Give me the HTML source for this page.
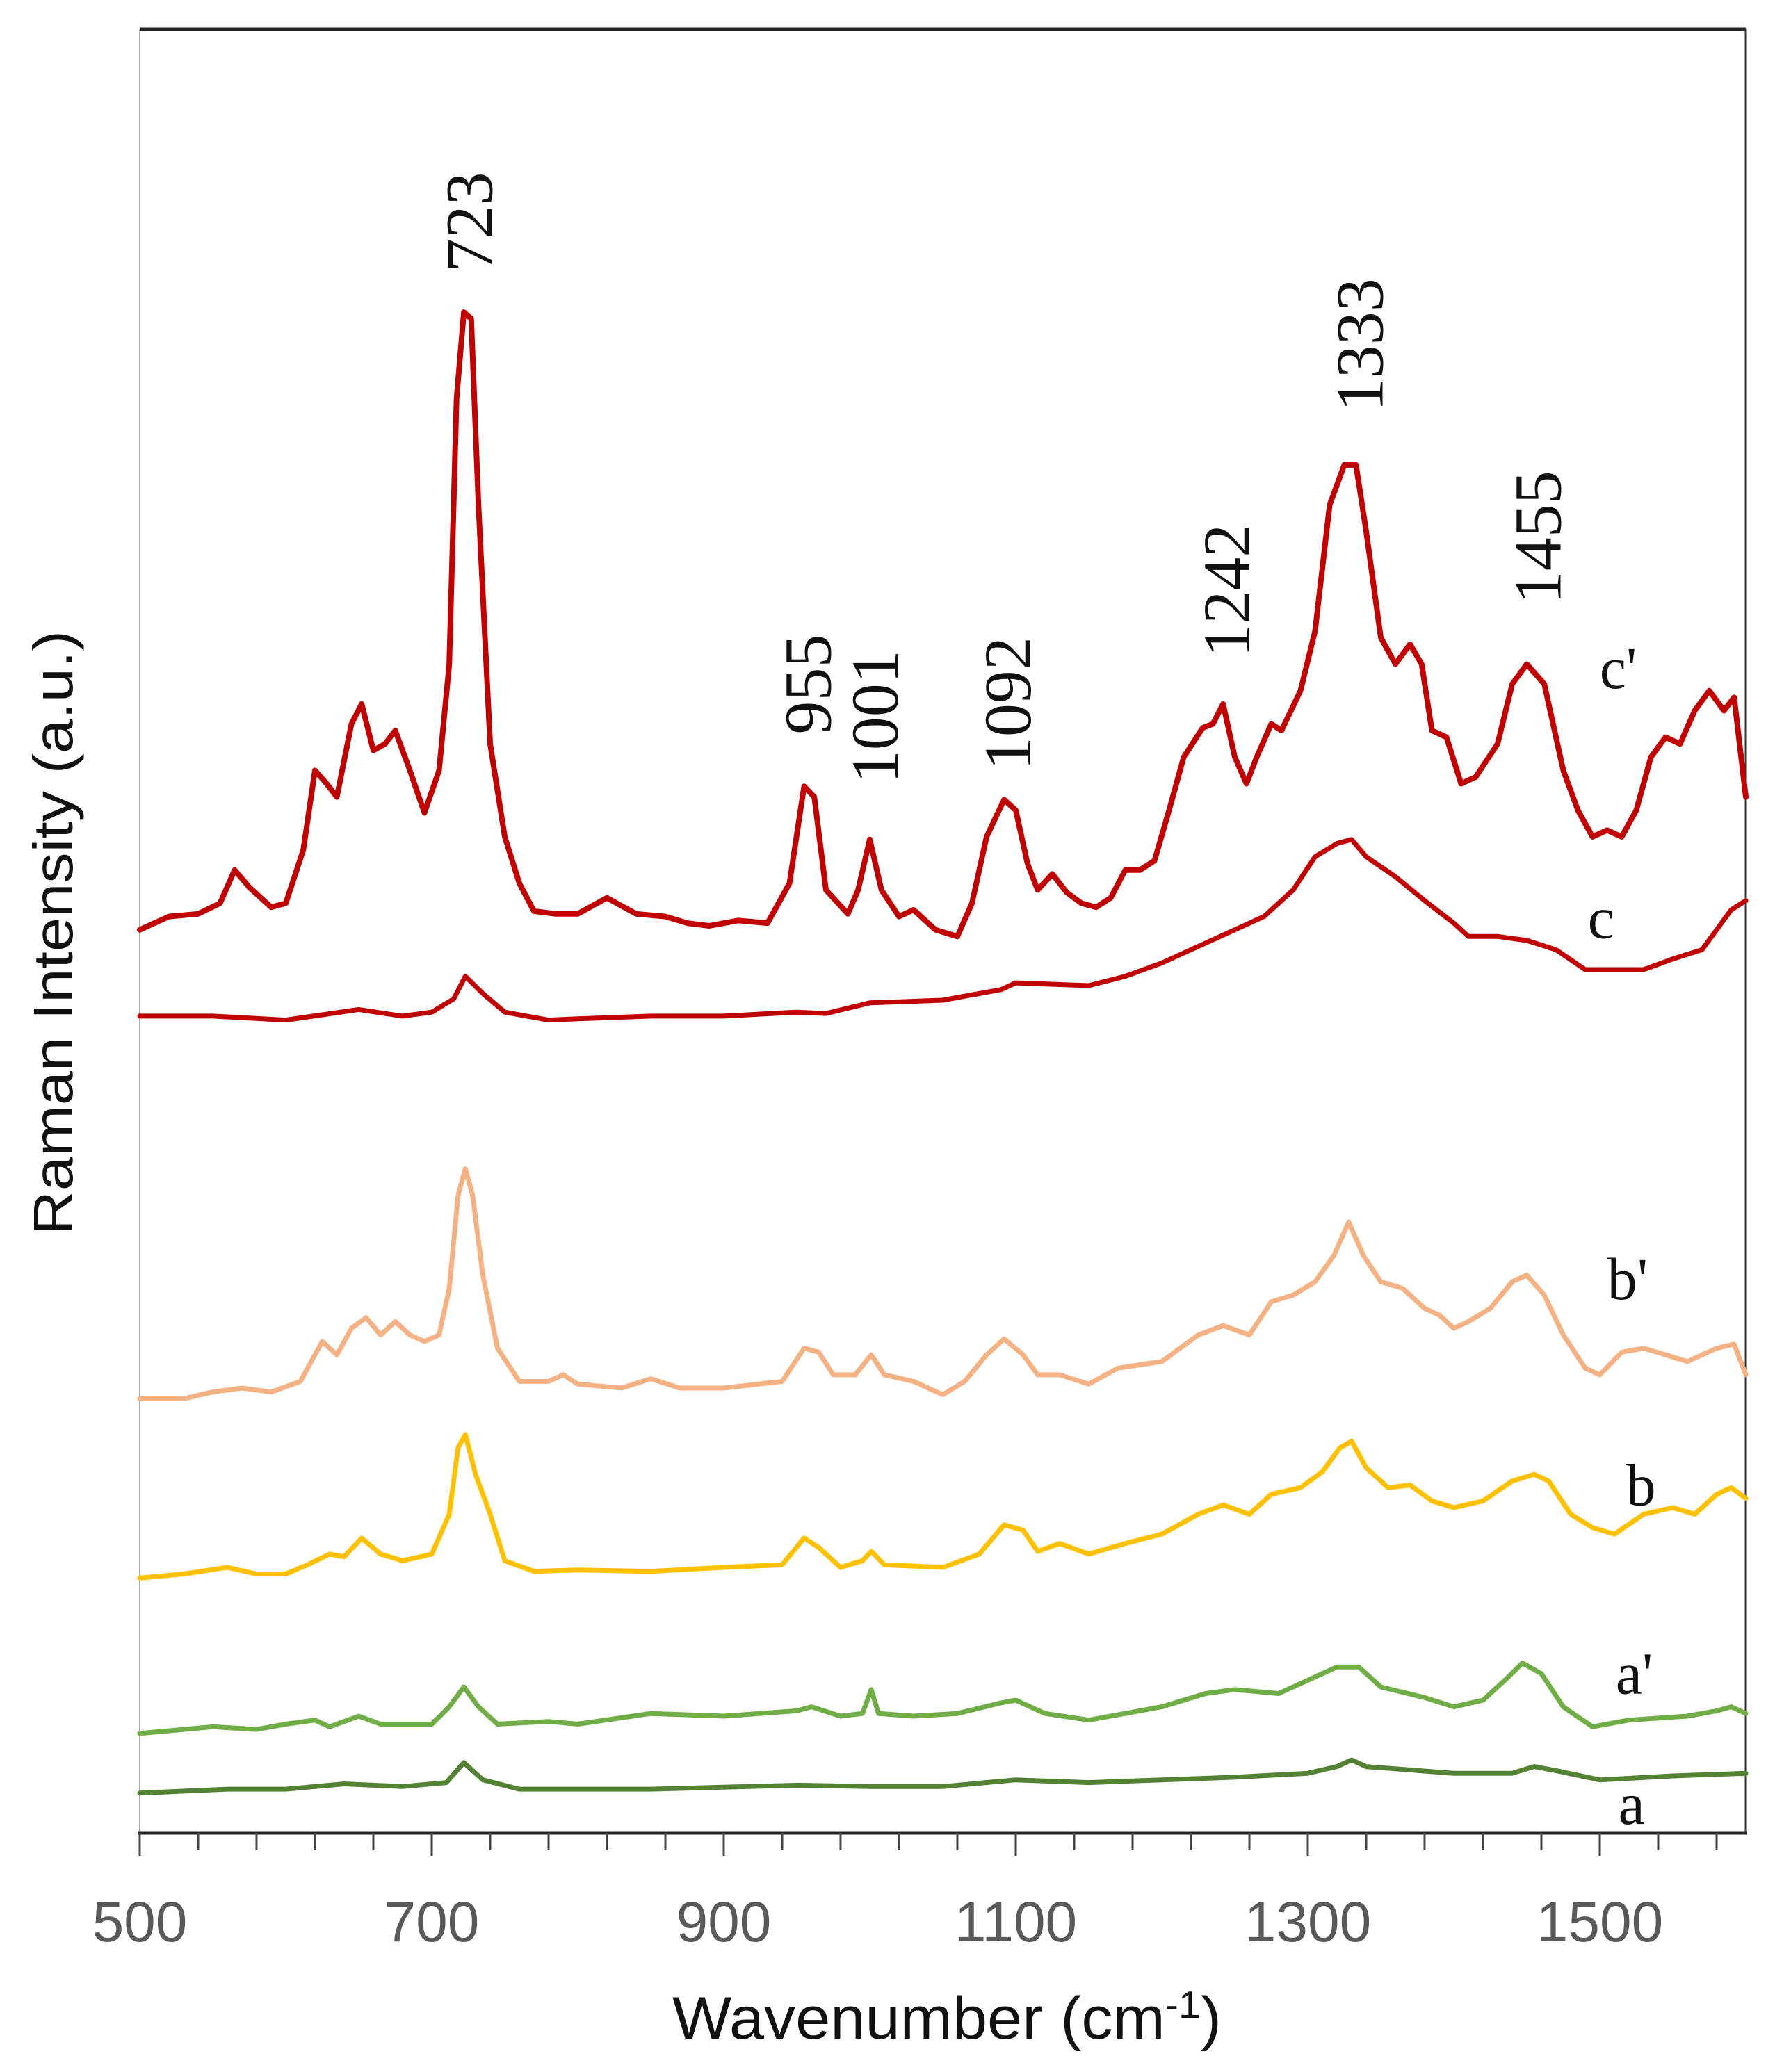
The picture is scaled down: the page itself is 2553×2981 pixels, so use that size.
<!DOCTYPE html>
<html><head><meta charset="utf-8"><style>html,body{margin:0;padding:0;background:#fff}svg{display:block}</style></head>
<body>
<svg id="chart" width="2553" height="2981" viewBox="0 0 2553 2981" xmlns="http://www.w3.org/2000/svg">
<rect width="2553" height="2981" fill="#fff"/>
<g id="frame"></g>
<g id="series"></g>
<g id="labels"></g>
</svg>
<script>
// Data (wavenumber, intensity in a.u.)
const cpX=[500,520,540,555,565,575,590,600,612,620,628,635,645,652,660,668,675,685,695,705,712,717,722,727,732,740,750,760,770,785,800,820,840,860,875,890,910,930,945,955,962,970,985,992,1000,1008,1020,1030,1045,1060,1070,1080,1092,1100,1108,1115,1125,1135,1145,1155,1165,1175,1185,1195,1205,1215,1228,1235,1242,1250,1258,1265,1275,1282,1295,1305,1315,1325,1333,1340,1350,1360,1370,1378,1385,1395,1405,1415,1430,1440,1450,1462,1475,1485,1495,1505,1515,1525,1535,1545,1555,1565,1575,1585,1592,1600];
const cpY=[700,690,688,680,655,668,683,680,640,580,590,600,545,530,565,560,550,580,612,580,500,300,235,240,380,560,630,665,686,688,688,676,688,690,695,697,693,695,665,592,600,670,688,670,632,670,690,685,700,705,680,630,602,610,650,670,658,672,680,683,676,655,655,648,610,570,548,545,530,570,590,570,545,550,520,475,380,350,350,400,480,500,485,500,550,555,590,585,560,515,500,515,580,610,630,625,630,610,570,555,560,535,520,535,525,600];
const cX=[500,550,600,650,680,700,715,723,735,750,780,800,850,900,950,970,1000,1050,1090,1100,1150,1175,1200,1230,1250,1270,1290,1305,1320,1330,1340,1360,1380,1400,1410,1430,1450,1470,1490,1510,1530,1550,1570,1580,1590,1600];
const cY=[765,765,768,760,765,762,752,735,748,762,768,767,765,765,762,763,755,753,745,740,742,735,725,710,700,690,670,645,635,632,645,660,678,695,705,705,708,715,730,730,730,722,715,700,685,678];
const bpX=[500,530,550,570,590,610,620,625,635,645,655,665,675,685,695,705,712,718,723,728,735,745,760,780,790,800,830,850,870,900,940,955,965,975,990,1001,1010,1030,1050,1065,1080,1092,1105,1115,1130,1150,1170,1200,1225,1242,1260,1275,1290,1305,1318,1328,1338,1350,1365,1380,1390,1400,1410,1425,1440,1450,1462,1475,1490,1500,1515,1530,1545,1560,1580,1592,1600];
const bpY=[1053,1053,1048,1045,1048,1040,1020,1010,1020,1000,992,1005,995,1005,1010,1005,970,900,880,900,960,1015,1040,1040,1035,1042,1045,1038,1045,1045,1040,1015,1018,1035,1035,1020,1035,1040,1050,1040,1020,1008,1020,1035,1035,1042,1030,1025,1005,998,1005,980,975,965,945,920,945,965,970,985,990,1000,995,985,965,960,975,1005,1030,1035,1018,1015,1020,1025,1015,1012,1035];
const bX=[500,530,560,580,600,615,630,640,652,665,680,700,712,718,723,730,740,750,770,800,850,900,940,955,965,980,995,1001,1010,1050,1075,1092,1105,1115,1130,1150,1175,1200,1225,1242,1260,1275,1295,1310,1322,1330,1340,1355,1370,1385,1400,1420,1440,1455,1465,1480,1495,1510,1530,1550,1565,1580,1590,1600];
const bY=[1188,1185,1180,1185,1185,1178,1170,1172,1158,1170,1175,1170,1140,1090,1080,1110,1140,1175,1183,1182,1183,1180,1178,1158,1165,1180,1175,1168,1178,1180,1170,1148,1152,1168,1162,1170,1162,1155,1140,1133,1140,1125,1120,1108,1090,1085,1105,1120,1118,1130,1135,1130,1115,1110,1115,1140,1150,1155,1140,1135,1140,1125,1120,1128];
const apX=[500,550,580,600,620,630,650,665,700,712,722,732,745,780,800,850,900,950,960,980,995,1001,1006,1030,1060,1090,1100,1120,1150,1200,1230,1250,1280,1300,1320,1335,1350,1380,1400,1420,1435,1447,1460,1475,1495,1520,1560,1580,1590,1600];
const apY=[1305,1300,1302,1298,1295,1300,1292,1298,1298,1285,1270,1285,1298,1296,1298,1290,1292,1288,1285,1292,1290,1272,1290,1292,1290,1282,1280,1290,1295,1285,1275,1272,1275,1265,1255,1255,1270,1278,1285,1280,1265,1252,1260,1285,1300,1295,1292,1288,1285,1290];
const aX=[500,560,600,640,680,710,722,735,760,850,950,1000,1050,1100,1150,1200,1250,1300,1320,1330,1340,1400,1440,1455,1470,1500,1550,1600];
const aY=[1350,1347,1347,1343,1345,1342,1327,1340,1347,1347,1344,1345,1345,1340,1342,1340,1338,1335,1330,1325,1330,1335,1335,1330,1333,1340,1337,1335];
const xTicks=[500,700,900,1100,1300,1500];
const peakLabels=["723","955","1001","1092","1242","1333","1455"];
const peakPos=[723,955,1001,1092,1242,1333,1455];
const peakTop=[130,478,480,470,385,200,345];

const NS="http://www.w3.org/2000/svg";
const L=201,R=2511,T=42,B=2637;
function xs(w){return L+(w-500)*(R-L)/1100;}
function ys(v){return v*1.911;}
function mk(tag,attrs,parent){const e=document.createElementNS(NS,tag);for(const k in attrs)e.setAttribute(k,attrs[k]);parent.appendChild(e);return e;}
const frame=document.getElementById('frame'),series=document.getElementById('series'),labels=document.getElementById('labels');

let e;
e=mk('line',{x1:L,y1:T,x2:R,y2:T,stroke:'#222','stroke-width':5},frame);


e=mk('line',{x1:L,y1:T,x2:L,y2:B,stroke:'#aaa','stroke-width':2},frame);


e=mk('line',{x1:R,y1:T,x2:R,y2:B,stroke:'#333','stroke-width':3},frame);


e=mk('line',{x1:L-2,y1:B,x2:R+2,y2:B,stroke:'#222','stroke-width':5},frame);


for(let w=500;w<=1600;w+=40){
  const major=(w-500)%200===0;
  e=mk('line',{x1:xs(w),y1:B,x2:xs(w),y2:B+(major?33:25),stroke:'#444','stroke-width':3},frame);
  
  
}
xTicks.forEach(t=>{
  e=mk('text',{x:xs(t),y:2793,'text-anchor':'middle','font-family':'Liberation Sans, sans-serif','font-size':82,fill:'#595959'},frame);
  e.textContent=t;
  
  
});
e=mk('text',{x:1362,y:2933,'text-anchor':'middle','font-family':'Liberation Sans, sans-serif','font-size':86,fill:'#111',textLength:790,lengthAdjust:'spacingAndGlyphs'},frame);
e.innerHTML='Wavenumber (cm<tspan dy="-30" font-size="55">-1</tspan><tspan dy="30">)</tspan>';


e=mk('text',{x:0,y:0,transform:'translate(104,1342) rotate(-90)','text-anchor':'middle','font-family':'Liberation Sans, sans-serif','font-size':80,fill:'#111',textLength:870,lengthAdjust:'spacingAndGlyphs'},frame);
e.textContent='Raman Intensity (a.u.)';



function draw(X,Y,color,w,name){
  const d=X.map((x,i)=>(i?'L':'M')+xs(x).toFixed(1)+','+ys(Y[i]).toFixed(1)).join(' ');
  const p=mk('path',{d:d,fill:'none',stroke:color,'stroke-width':w,'stroke-linejoin':'round','stroke-linecap':'round'},series);
  
  
}
draw(cpX,cpY,'#c00000',8,'series-c-prime');
draw(cX,cY,'#c00000',7,'series-c');
draw(bpX,bpY,'#f4b183',7,'series-b-prime');
draw(bX,bY,'#ffc000',7,'series-b');
draw(apX,apY,'#70ad47',7,'series-a-prime');
draw(aX,aY,'#548235',7,'series-a');

peakLabels.forEach((t,i)=>{
  const cx=xs(peakPos[i])+4, bottom=ys(peakTop[i])+(t.length===3?143:210);
  e=mk('text',{x:0,y:0,transform:`translate(${cx+34},${bottom}) rotate(-90)`,'font-family':'Liberation Serif, serif','font-size':96,fill:'#111'},labels);
  e.textContent=t;
  
  
});
const curveLabels=["c'","c","b'","b","a'","a"];
const clX=[1218,1205,1225,1235,1230,1228];
const clY=[505,693,965,1120,1262,1360];
curveLabels.forEach((t,i)=>{
  e=mk('text',{x:clX[i]*1.911,y:clY[i]*1.911+25,'text-anchor':'middle','font-family':'Liberation Serif, serif','font-size':86,fill:'#111'},labels);
  e.textContent=t;
  
  
});
</script>
</body></html>
